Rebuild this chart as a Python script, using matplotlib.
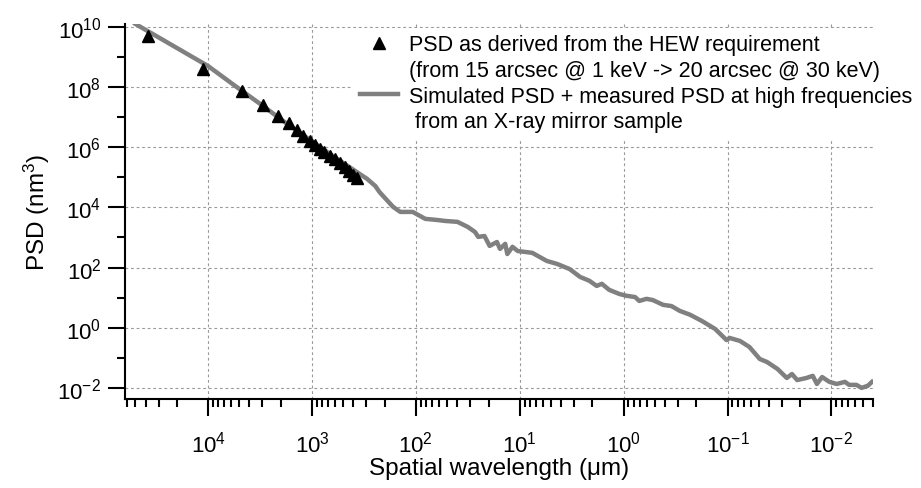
import matplotlib
matplotlib.use('Agg')
import matplotlib.pyplot as plt
from matplotlib.lines import Line2D
from matplotlib.ticker import FixedLocator, LogLocator, NullFormatter
import numpy as np

plt.rcParams['font.family'] = ['Liberation Sans', 'DejaVu Sans']
plt.rcParams['mathtext.fontset'] = 'custom'
plt.rcParams['mathtext.rm'] = 'Liberation Sans'
plt.rcParams['mathtext.it'] = 'Liberation Sans:italic'

# Simulierte + gemessene PSD (log10 Wellenlaenge in um, log10 PSD in nm^3)
log_wl_kurve = [4.70, 4.32, 4.00, 3.74, 3.47, 3.28, 2.80, 2.54, 2.47, 2.39,
                2.35, 2.22, 2.15, 2.03, 1.91, 1.79, 1.72, 1.60, 1.50, 1.43,
                1.40, 1.34, 1.29, 1.22, 1.19, 1.14, 1.12, 1.07, 1.02, 0.88,
                0.74, 0.64, 0.52, 0.42, 0.33, 0.26, 0.21, 0.14, 0.04, -0.03,
                -0.11, -0.15, -0.22, -0.28, -0.38, -0.46, -0.54, -0.64, -0.75, -0.88,
                -0.99, -1.02, -1.12, -1.21, -1.31, -1.38, -1.48, -1.57, -1.62, -1.67,
                -1.76, -1.82, -1.86, -1.91, -1.98, -2.05, -2.13, -2.17, -2.24, -2.29,
                -2.35, -2.39]
log_psd_kurve = [10.10, 9.34, 8.70, 8.04, 7.37, 6.88, 5.71, 5.11, 4.95, 4.71,
                 4.51, 4.02, 3.85, 3.85, 3.62, 3.58, 3.55, 3.52, 3.35, 3.18,
                 3.02, 3.05, 2.72, 2.85, 2.62, 2.79, 2.45, 2.69, 2.55, 2.49,
                 2.22, 2.12, 1.95, 1.69, 1.56, 1.39, 1.46, 1.26, 1.12, 1.06,
                 1.02, 0.89, 0.96, 0.92, 0.76, 0.72, 0.56, 0.43, 0.23, -0.04,
                 -0.41, -0.34, -0.44, -0.64, -1.04, -1.14, -1.37, -1.67, -1.54, -1.74,
                 -1.67, -1.60, -1.87, -1.64, -1.80, -1.87, -1.80, -1.90, -1.90, -2.00,
                 -1.93, -1.80]

# PSD aus der HEW-Anforderung
log_wl_hew = [4.58, 4.05, 3.67, 3.47, 3.33, 3.22, 3.14, 3.09, 3.02, 2.97,
              2.92, 2.88, 2.83, 2.78, 2.73, 2.68, 2.64, 2.61, 2.57]
log_psd_hew = [9.70, 8.60, 7.87, 7.41, 7.04, 6.81, 6.58, 6.38, 6.21, 6.08,
               5.94, 5.84, 5.71, 5.61, 5.48, 5.35, 5.21, 5.08, 4.98]

label_hew = ['PSD as derived from the HEW requirement',
             '(from 15 arcsec @ 1 keV -> 20 arcsec @ 30 keV)']
label_kurve = ['Simulated PSD + measured PSD at high frequencies',
               ' from an X-ray mirror sample']

fig = plt.figure(figsize=(9.21, 4.89), dpi=100)
ax = fig.add_axes([0.1357, 0.182, 0.8122, 0.767])

ax.plot(10 ** np.array(log_wl_kurve), 10 ** np.array(log_psd_kurve),
        color='#808080', lw=3.2, solid_joinstyle='round', zorder=2)
ax.plot(10 ** np.array(log_wl_hew), 10 ** np.array(log_psd_hew),
        linestyle='none', marker='^', color='black', markersize=9, zorder=3)

ax.set_xscale('log')
ax.set_yscale('log')
ax.set_xlim(10 ** 4.8, 10 ** -2.4)
ax.set_ylim(10 ** -2.37, 10 ** 10.1)

ax.xaxis.set_major_locator(FixedLocator([10.0 ** k for k in range(-2, 5)]))
ax.xaxis.set_minor_locator(LogLocator(base=10, subs=np.arange(2, 10)))
ax.xaxis.set_minor_formatter(NullFormatter())
ax.set_xticklabels([r'$10^{%d}$' % k for k in range(-2, 5)])

ax.yaxis.set_major_locator(FixedLocator([10.0 ** k for k in range(-2, 11, 2)]))
ax.yaxis.set_minor_locator(FixedLocator([10.0 ** k for k in range(-1, 10, 2)]))
ax.yaxis.set_minor_formatter(NullFormatter())
ax.set_yticklabels([r'$10^{%d}$' % k for k in range(-2, 11, 2)])

for s in ['top', 'right']:
    ax.spines[s].set_visible(False)
for s in ['left', 'bottom']:
    ax.spines[s].set_linewidth(1.5)

ax.tick_params(which='major', length=12, width=1.5, labelsize=16, direction='out')
ax.tick_params(which='minor', length=6, width=1.5, direction='out')
ax.tick_params(axis='x', which='major', pad=10.5)
ax.tick_params(axis='y', which='major', pad=5)

ax.grid(True, which='major', linestyle=(0, (2.5, 2.5)), color='#999999', lw=0.8)

ax.set_xlabel('Spatial wavelength (μm)', fontsize=17.5, labelpad=0.5)
ax.set_ylabel('PSD (nm$^3$)', fontsize=17.5, labelpad=4)

# Legende
leer = Line2D([], [], linestyle='none')
handles = [Line2D([], [], linestyle='none', marker='^', color='black', markersize=9),
           leer,
           Line2D([], [], color='#808080', lw=3.2),
           leer]
labels = label_hew + label_kurve
leg = ax.legend(handles, labels, loc='upper left', bbox_to_anchor=(0.305, 0.99),
                fontsize=15.5, frameon=True, fancybox=False, handlelength=1.8,
                handletextpad=0.5, labelspacing=0.22, borderpad=0.3,
                borderaxespad=0)
leg.get_frame().set_edgecolor('none')
leg.get_frame().set_facecolor('white')
leg.get_frame().set_alpha(1)

fig.savefig('out.png', dpi=100)
